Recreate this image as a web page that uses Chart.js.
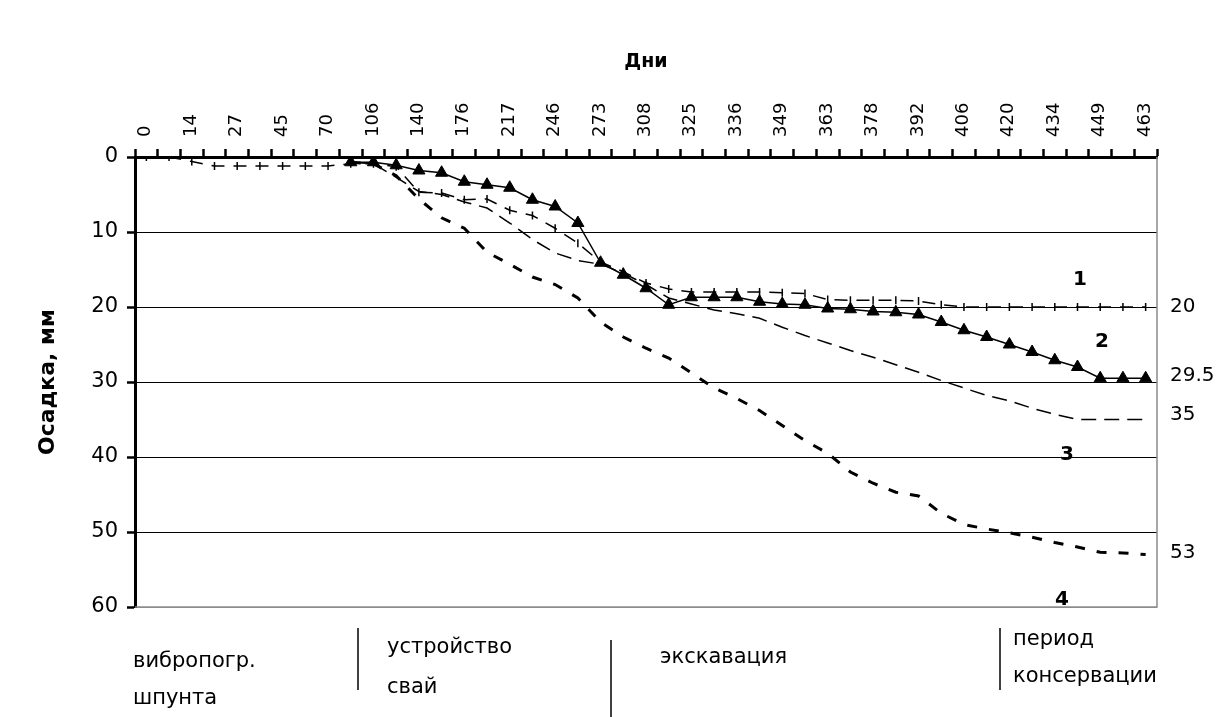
<!DOCTYPE html>
<html><head><meta charset="utf-8">
<script src="https://cdn.jsdelivr.net/npm/chart.js@4.4.1/dist/chart.umd.min.js"></script>
<style>html,body{margin:0;padding:0;background:#fff;}canvas{display:block}</style>
</head><body>
<canvas id="c" width="1231" height="717"></canvas>
<script>
// Visible day labels (every second category carries a label)
const dayLabels = [0, 14, 27, 45, 70, 106, 140, 176, 217, 246, 273, 308, 325, 336, 349, 363, 378, 392, 406, 420, 434, 449, 463];

// Settlement series, mm (45 categories)
const series1 = [0, 0, 0.6, 1.2, 1.2, 1.2, 1.2, 1.2, 1.2, 0.9, 0.9, 1.3, 4.7, 4.8, 5.7, 5.6, 7.1, 7.8, 9.5, 11.5, 14.0, 15.3, 16.8, 17.6, 18.0, 18.0, 18.0, 18.0, 18.1, 18.2, 19.0, 19.1, 19.1, 19.1, 19.2, 19.7, 20, 20, 20, 20, 20, 20, 20, 20, 20];
const series2 = [null, null, null, null, null, null, null, null, null, 0.7, 0.7, 1.1, 1.8, 2.1, 3.3, 3.7, 4.1, 5.7, 6.6, 8.8, 14.1, 15.7, 17.5, 19.7, 18.7, 18.7, 18.7, 19.3, 19.6, 19.7, 20.2, 20.3, 20.6, 20.7, 21.0, 22.0, 23.1, 24.0, 25.0, 26.0, 27.1, 28.0, 29.5, 29.5, 29.5];
const series3 = [null, null, null, null, null, null, null, null, null, 0.7, 0.9, 2.7, 4.6, 5.0, 6.0, 6.8, 8.8, 11.0, 12.8, 13.8, 14.3, 15.5, 17.0, 18.8, 19.6, 20.4, 20.9, 21.5, 22.7, 23.8, 24.8, 25.8, 26.7, 27.7, 28.7, 29.8, 30.8, 31.8, 32.5, 33.5, 34.3, 35, 35, 35, 35];
const series4 = [null, null, null, null, null, null, null, null, null, 0.7, 0.9, 2.5, 5.6, 8.1, 9.5, 12.7, 14.3, 16.0, 17.0, 18.8, 22.0, 24.0, 25.5, 26.8, 28.8, 30.8, 32.2, 33.8, 35.8, 37.8, 39.5, 42.0, 43.5, 44.7, 45.2, 47.5, 49.0, 49.6, 50.1, 50.7, 51.4, 52.0, 52.7, 52.8, 53.0];

// Final values written at the right edge
const endValues = [20, 29.5, 35, 53];
const endTexts = ['20', '29.5', '35', '53'];
// Curve numbers
const curveNames = ['1', '2', '3', '4'];
// Construction phases
const phases = [['вибропогр.', 'шпунта'], ['устройство', 'свай'], ['экскавация'], ['период', 'консервации']];

const categories = [];
dayLabels.forEach((d, i) => { categories.push(String(d)); if (i < dayLabels.length - 1) categories.push(''); });

const FONT = '"DejaVu Sans", "Liberation Sans", Arial, sans-serif';

const extras = {
  id: 'extras',
  afterDraw(chart) {
    const ctx = chart.ctx, a = chart.chartArea, y = chart.scales.y;
    ctx.save();
    // right & bottom plot border
    ctx.strokeStyle = '#8c8c8c'; ctx.lineWidth = 1.5;
    ctx.beginPath();
    ctx.moveTo(a.right, a.top); ctx.lineTo(a.right, a.bottom); ctx.lineTo(a.left, a.bottom);
    ctx.stroke();
    ctx.fillStyle = '#000';
    // end values
    ctx.font = '20px ' + FONT; ctx.textAlign = 'left'; ctx.textBaseline = 'middle';
    const endDy = [0, -2, -5, -2];
    endValues.forEach((v, i) => ctx.fillText(endTexts[i], a.right + 13, y.getPixelForValue(v) + endDy[i]));
    // curve numbers
    ctx.font = 'bold 20px ' + FONT; ctx.textAlign = 'center';
    const cPos = [[1080, 280], [1102, 342], [1067, 455], [1062, 600]];
    curveNames.forEach((t, i) => ctx.fillText(t, cPos[i][0], cPos[i][1]));
    // phases
    ctx.font = '21px ' + FONT; ctx.textAlign = 'left';
    const pPos = [[133, 662, 37], [387, 648, 40], [660, 658, 0], [1013, 640, 37]];
    phases.forEach((lines, i) => lines.forEach((t, j) => ctx.fillText(t, pPos[i][0], pPos[i][1] + j * pPos[i][2])));
    ctx.strokeStyle = '#000'; ctx.lineWidth = 1.5;
    [[358, 628, 690], [611, 640, 717], [1000, 628, 690]].forEach(d => {
      ctx.beginPath(); ctx.moveTo(d[0], d[1]); ctx.lineTo(d[0], d[2]); ctx.stroke();
    });
    ctx.restore();
  }
};

new Chart(document.getElementById('c'), {
  type: 'line',
  data: {
    labels: categories,
    datasets: [
      { label: '1', data: series1, borderColor: '#000', backgroundColor: '#000', borderWidth: 1.5, borderDash: [13, 9], pointStyle: 'line', rotation: 90, pointRadius: 4, pointBorderWidth: 1.5, tension: 0 },
      { label: '2', data: series2, borderColor: '#000', backgroundColor: '#000', borderWidth: 1.5, pointStyle: 'triangle', pointRadius: 7, pointBorderWidth: 1, tension: 0 },
      { label: '3', data: series3, borderColor: '#000', borderWidth: 1.5, borderDash: [15, 8], pointRadius: 0, tension: 0 },
      { label: '4', data: series4, borderColor: '#000', borderWidth: 3, borderDash: [10, 12], pointRadius: 0, tension: 0 }
    ]
  },
  options: {
    responsive: false,
    devicePixelRatio: 1,
    animation: false,
    layout: { padding: { top: 0, left: 0, right: 74, bottom: 110 } },
    plugins: { legend: { display: false }, tooltip: { enabled: false } },
    scales: {
      x: {
        type: 'category', position: 'top', offset: true,
        afterFit: s => { s.height = 157; },
        grid: { offset: true, drawOnChartArea: false, drawTicks: true, tickLength: 8, tickWidth: 2.5, tickColor: '#000' },
        border: { display: true, color: '#000', width: 3 },
        ticks: { autoSkip: false, maxRotation: 90, minRotation: 90, labelOffset: 21, color: '#000', padding: 12, font: { family: FONT, size: 18 } },
        title: { display: true, text: 'Дни', color: '#000', font: { family: FONT, size: 19, weight: 'bold' }, padding: { top: 51, bottom: 0 } }
      },
      y: {
        type: 'linear', reverse: true, min: 0, max: 60,
        afterFit: s => { s.width = 135; },
        grid: { color: c => (c.tick && c.tick.value === 60 ? '#8c8c8c' : '#000'), lineWidth: 1, drawTicks: true, tickLength: 8, tickWidth: 2.5, tickColor: '#000' },
        border: { display: true, color: '#000', width: 3 },
        ticks: { stepSize: 10, color: '#000', padding: 9, font: { family: FONT, size: 21 } },
        title: { display: true, text: 'Осадка, мм', color: '#000', font: { family: FONT, size: 22, weight: 'bold' }, padding: { top: 35, bottom: 0 } }
      }
    }
  },
  plugins: [extras]
});
</script>
</body></html>
